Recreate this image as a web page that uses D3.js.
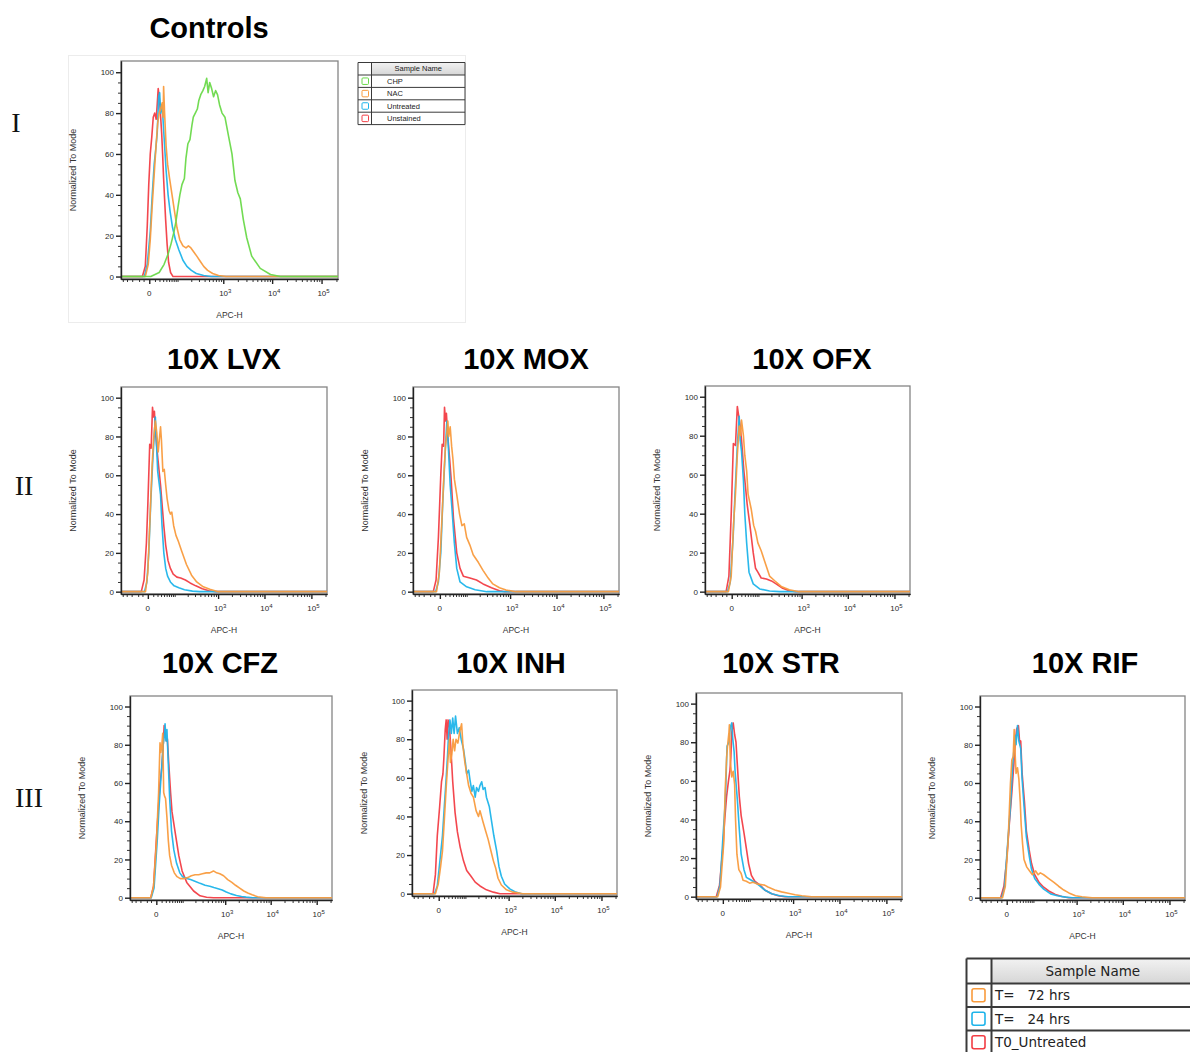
<!DOCTYPE html>
<html>
<head>
<meta charset="utf-8">
<script src="https://cdn.jsdelivr.net/npm/d3@7"></script>
<style>
  body { margin: 0; background: #fff; }
  svg { display: block; }
</style>
</head>
<body>
<svg id="fig" width="1190" height="1052"></svg>
<script>
// ---------------------------------------------------------------
// Histogram data: [APC-H value, % of mode]
// ---------------------------------------------------------------

// Controls
const ctrlUnstained = [[-12.5,0],[-6.7,5],[-3.2,25],[-0.8,45],[1.55,60],[4.0,68],[6.7,78],[9.5,80],[12.5,77],[14.7,84],[17,92],[19.3,88],[21.8,82],[25.8,70],[28.4,60],[31.3,48],[34.3,38],[37.6,28],[42.6,16],[48,7],[55.8,2],[66.7,0]];
const ctrlUntreated = [[-8.5,0],[-3.2,6],[1.55,22],[4.9,40],[8.5,55],[11.5,62],[14.7,70],[18.1,88],[20.5,90],[23.1,80],[25.8,84],[28.5,80],[32.8,68],[39.2,52],[46.2,40],[53.8,32],[64.4,24],[78.5,18],[98,13],[125,8],[157,5],[201,3],[261,1.5],[382,0.5],[554,0]];
const ctrlNAC = [[-6.7,0],[-1.6,6],[1.55,18],[4.9,35],[8.5,50],[12.5,65],[15.8,75],[19.3,80],[23.1,82],[27.1,85],[29.9,78],[31.3,93],[34.3,80],[39.2,64],[44.4,55],[51.8,48],[62.2,40],[73.7,32],[86.7,24],[103.6,18],[125,15],[149,14],[171,15],[196,14],[229,12],[268,10],[320,7.5],[382,5],[466,3],[597,1.5],[796,0.5],[1138,0]];
const ctrlCHP = [[2.4,0],[19.3,2],[32.8,6],[46.2,11],[57.9,16],[71.4,22],[81.4,27],[92.5,34],[104,40],[118,45],[136,48],[149,58],[166,65],[186,67],[207,74],[223,78],[248,80],[276,82],[297,86],[329,89],[367,91],[401,93],[444,97],[477,90],[516,95],[568,92],[625,88],[689,91],[757,89],[837,84],[942,80],[1084,78],[1281,69],[1515,60],[1745,47],[2003,41],[2248,38],[2588,28],[3045,19],[3844,10],[5736,4],[9267,1],[14700,0]];

// 10X LVX
const lvxT0 = [[-12.5,0],[-6.7,6],[-2.4,25],[0,45],[3.2,76],[5.8,74],[8.5,95],[10.5,90],[12.5,93],[15.8,80],[19.3,72],[24.4,62],[28.5,55],[32.8,46],[39.2,34],[46.2,24],[55.8,16],[66.7,12],[81.4,9],[104,7.5],[132,7],[175,6],[229,4.5],[313,3],[444,1.5],[625,0.5],[876,0]];
const lvx24 = [[-5.8,0],[-1.6,5],[1.55,20],[4.9,45],[8.5,65],[11.5,78],[14.7,90],[17,78],[20.5,62],[24.4,56],[28.5,50],[32.8,35],[39.2,20],[46.2,12],[53.8,8],[66.7,5],[86.7,3],[118,2],[166,1],[261,0.3],[382,0]];
const lvx72 = [[-4.0,0],[0,10],[4.0,40],[7.6,65],[10.5,78],[14.7,88],[18.1,82],[21.8,72],[25.8,80],[28.5,85],[31.3,78],[35.9,62],[40.9,63],[46.2,55],[51.8,48],[60,42],[66.7,40],[73.7,41],[84,34],[98,29],[114,26],[140,21],[186,14],[248,8.5],[329,5],[466,2.5],[656,1.2],[1010,0]];

// 10X MOX
const moxT0 = [[-12.5,0],[-6.7,6],[-2.4,28],[1.55,60],[4.0,76],[6.7,75],[8.5,95],[10.5,88],[12.5,92],[15.8,80],[20.5,68],[24.4,58],[31.3,38],[42.6,20],[55.8,12],[71.4,8],[111,7],[166,6],[241,4],[382,2],[580,0.5],[757,0]];
const mox24 = [[-7.6,0],[-2.4,5],[1.55,20],[4.9,45],[7.6,60],[10.5,75],[13.6,88],[15.8,80],[19.3,65],[21.8,55],[27.1,42],[34.3,25],[42.6,12],[55.8,5],[89.7,2.5],[153,1],[297,0]];
const mox72 = [[-5.8,0],[-0.8,10],[4.0,40],[7.6,62],[10.5,75],[13.6,82],[15.8,88],[18.1,80],[21.8,85],[25.8,75],[29.9,68],[34.3,58],[42.6,50],[53.8,40],[64.4,34],[76.3,35],[89.7,28],[111,24],[136,19],[186,15],[241,11],[320,7],[410,4],[580,2],[815,0.8],[1340,0]];

// 10X OFX
const ofxT0 = [[-10.5,0],[-4.9,8],[-0.8,40],[2.8,76],[6.7,75],[10.5,95],[13.6,90],[17,85],[20.5,78],[27.1,62],[31.3,55],[37.5,45],[48,34],[62.2,20],[73.7,12],[86.7,10],[108,7],[149,6.5],[201,5.5],[261,4],[374,1.7],[530,0.5],[740,0]];
const ofx24 = [[-7.6,0],[-2.4,5],[2.4,28],[5.8,50],[10.5,75],[14.7,90],[17,78],[20.5,72],[25.8,57],[29.9,40],[35.9,25],[44.4,10],[62.2,4],[98,1.4],[180,0.3],[313,0]];
const ofx72 = [[-5.8,0],[-0.8,8],[3.2,35],[6.7,50],[10.5,70],[14.7,85],[18.1,80],[20.5,88],[25.8,80],[29.9,70],[35.9,62],[40.9,50],[53.8,42],[64.4,34],[73.7,31],[86.7,25],[108,21],[132,16],[180,8],[241,5.6],[345,2.7],[530,1],[876,0]];

// 10X CFZ
const cfzT0 = [[-10.5,0],[-4.9,6],[0,30],[3.2,45],[6.7,60],[10.5,68],[13.6,80],[15.8,90],[19.3,85],[21.8,82],[24.4,83],[28.5,70],[34.3,55],[39.2,45],[51.8,34],[68.6,22],[86.7,14],[118,8],[180,3.5],[261,1],[374,0.2],[541,0]];
const cfz24 = [[-9.5,0],[-4.0,5],[1.55,30],[4.9,48],[8.5,62],[13.6,80],[17,86],[18.1,91],[20.5,82],[23.1,88],[27.1,70],[31.3,52],[37.5,35],[46.2,25],[57.9,18],[73.7,13],[89.7,11],[118,10],[149,9.5],[201,8.5],[261,7.5],[345,6.5],[444,6],[554,5.3],[689,4.7],[855,4],[1058,3],[1340,2],[1777,1.2],[2303,0.6],[2908,0.3],[4030,0]];
const cfz72 = [[-10.5,0],[-4.9,6],[0,28],[4.0,55],[6.7,81],[8.5,76],[10.5,80],[12.5,86],[14.7,55],[17,53],[19.3,52],[23.1,42],[27.1,30],[31.3,22],[37.5,17],[48,13],[60,11],[76.3,10],[98,10],[125,10.5],[157,11.5],[196,12],[241,12],[297,12.5],[367,13],[444,13],[541,14],[640,13],[757,12.5],[920,11.5],[1138,9.5],[1408,8],[1697,6.5],[2095,5],[2588,3.5],[3160,2.5],[3940,1.5],[5197,0.5],[7900,0]];

// 10X INH
const inhT0 = [[-10.5,0],[-5.8,10],[-2.4,30],[1.55,45],[4.9,58],[7.6,62],[9.5,70],[12.5,85],[14.7,90],[17,80],[19.3,90],[23.1,86],[27.1,75],[32.8,58],[40.9,42],[49.9,32],[62.2,24],[78.8,17],[98,12],[129,9],[166,6],[219,4],[313,2],[455,0.8],[640,0]];
const inh24 = [[-7.6,0],[-2.4,4],[2.4,18],[6.7,30],[10.5,45],[14.7,60],[18.1,72],[20.5,82],[24.4,90],[28.5,83],[32.8,91],[37.5,83],[42.6,92],[49.9,83],[57.9,86],[66.7,80],[78.8,75],[89.7,68],[98,62],[111,64],[121,59],[136,53],[149,56],[166,50],[180,55],[201,53],[219,56],[241,58],[261,54],[290,55],[313,50],[367,45],[410,38],[466,30],[541,22],[610,14],[689,9],[815,5],[1060,2.5],[1375,1],[1910,0]];
const inh72 = [[-5.8,0],[-0.8,5],[3.2,14],[6.7,22],[10.5,38],[14.7,55],[19.3,70],[23.1,80],[25.8,68],[29.9,72],[34.3,80],[39.2,74],[44.4,80],[51.8,78],[60,84],[69,88],[76.3,76],[86.7,68],[98,62],[111,56],[129,52],[149,50],[175,43],[201,40],[219,43],[261,37],[305,32],[345,28],[401,22],[455,17],[516,13],[580,8],[689,4.5],[897,2],[1250,0.8],[2049,0]];

// 10X STR
const strT0 = [[-12.5,0],[-5.8,6],[0,25],[3.2,40],[6.7,52],[10.5,60],[13.6,65],[15.8,72],[18.1,85],[21.8,90],[25.8,84],[29.9,80],[34.3,68],[40.9,52],[48,42],[60,33],[71.4,25],[84,17],[101,11],[125,8],[171,6],[223,3.5],[329,1.5],[466,0.5],[656,0]];
const str24 = [[-10.5,0],[-4.9,6],[0,30],[3.2,45],[4.9,55],[7.6,78],[11.5,80],[14.7,88],[18.1,90],[20.5,82],[24.4,75],[27.1,65],[34.3,50],[40.9,35],[48,22],[60,14],[71.4,10],[89.7,9],[125,7.5],[171,5.5],[223,3.5],[329,1.5],[504,0.5],[778,0]];
const str72 = [[-9.5,0],[-4.0,5],[1.55,28],[4.0,55],[6.7,72],[8.5,78],[11.5,85],[12.5,89],[14.7,70],[18.1,62],[21.8,65],[25.8,58],[28.5,40],[32.8,22],[39.2,14],[48,12],[55.8,8.5],[71.4,8],[89.7,7],[111,7.5],[153,6.5],[223,6],[268,5],[391,3.5],[554,2.5],[778,1.8],[1110,1],[1550,0.5],[2530,0]];

// 10X RIF
const rifT0 = [[-11.5,0],[-4.9,6],[0,20],[4.9,40],[9.5,55],[11.5,62],[14.7,72],[17,80],[20.5,88],[25.8,90],[29.9,80],[32.8,82],[37.5,65],[46.2,50],[53.8,35],[66.7,25],[78.8,18],[98,12],[129,8],[171,5.5],[229,3.5],[329,1.7],[466,0.6],[672,0]];
const rif24 = [[-9.5,0],[-4.0,5],[0.8,25],[6.7,48],[11.5,70],[17,85],[19.3,80],[23.1,90],[27.1,82],[32.8,78],[37.5,62],[44.4,48],[53.8,32],[66.7,22],[78.8,15],[98,10],[129,7],[171,4.5],[254,2],[367,1],[568,0.3],[796,0]];
const rif72 = [[-7.6,0],[-2.4,6],[2.4,30],[6.7,60],[9.5,72],[12.5,74],[14.7,88],[17,75],[19.3,65],[23.1,68],[27.1,62],[31.3,50],[34.3,38],[39.2,28],[44.4,20],[55.8,16],[69,14],[84,12],[104,14],[122,12],[140,13],[171,12],[229,10],[305,8],[392,6],[516,4],[672,2.5],[942,1],[1310,0.5],[2180,0]];

// Axis ticks
const xDomain = [-90, 215000];
const yDomain = [-1.2, 105.5];
const xMajorTicks = [0, 1e3, 1e4, 1e5];
const xMajorLabels = [["0", ""], ["10", "3"], ["10", "4"], ["10", "5"]];
const xMinorTicks = [-80, -60, -40, -20, -10, 10, 20, 30, 40, 50, 60, 70, 80, 90,
  200, 300, 400, 500, 600, 700, 800, 900,
  2000, 3000, 4000, 5000, 6000, 7000, 8000, 9000,
  20000, 30000, 40000, 50000, 60000, 70000, 80000, 90000, 200000];
const yMajorTicks = [0, 20, 40, 60, 80, 100];
const yMinorTicks = [5, 10, 15, 25, 30, 35, 45, 50, 55, 65, 70, 75, 85, 90, 95];

// Legends
const controlNames = ["CHP", "NAC", "Untreated", "Unstained"];
const timeNames = ["T=   72 hrs", "T=   24 hrs", "T0_Untreated"];

const C = { green: "#6ad94a", orange: "#f99b3d", cyan: "#1eb4ea", red: "#f23d44" };
const controlColors = [C.green, C.orange, C.cyan, C.red];
const timeColors = [C.orange, C.cyan, C.red];

// ---------------------------------------------------------------
const SANS = "'Liberation Sans', Arial, Helvetica, sans-serif";
const svg = d3.select("#fig");

const panels = [
  { title: "Controls", tx: 209, ty: 38, box: { x: 121, y: 61, w: 217, h: 218 },
    series: [[ctrlUnstained, C.red], [ctrlUntreated, C.cyan], [ctrlNAC, C.orange], [ctrlCHP, C.green]] },
  { title: "10X LVX", tx: 224, ty: 369, box: { x: 121, y: 387, w: 206, h: 207 },
    series: [[lvxT0, C.red], [lvx24, C.cyan], [lvx72, C.orange]] },
  { title: "10X MOX", tx: 526, ty: 369, box: { x: 413, y: 387, w: 206, h: 207 },
    series: [[moxT0, C.red], [mox24, C.cyan], [mox72, C.orange]] },
  { title: "10X OFX", tx: 812, ty: 369, box: { x: 705, y: 386, w: 205, h: 208 },
    series: [[ofxT0, C.red], [ofx24, C.cyan], [ofx72, C.orange]] },
  { title: "10X CFZ", tx: 220, ty: 673, box: { x: 130, y: 696, w: 202, h: 204 },
    series: [[cfzT0, C.red], [cfz24, C.cyan], [cfz72, C.orange]] },
  { title: "10X INH", tx: 511, ty: 673, box: { x: 412, y: 690, w: 205, h: 206 },
    series: [[inhT0, C.red], [inh24, C.cyan], [inh72, C.orange]] },
  { title: "10X STR", tx: 781, ty: 673, box: { x: 696, y: 693, w: 206, h: 206 },
    series: [[strT0, C.red], [str24, C.cyan], [str72, C.orange]] },
  { title: "10X RIF", tx: 1085, ty: 673, box: { x: 980, y: 696, w: 205, h: 204 },
    series: [[rifT0, C.red], [rif24, C.cyan], [rif72, C.orange]] }
];

// faint export frame around the controls block
svg.append("rect").attr("x", 68.5).attr("y", 55.5).attr("width", 397).attr("height", 267)
  .attr("fill", "none").attr("stroke", "#ececec");

function drawPanel(p) {
  const b = p.box;
  const g = svg.append("g");
  const x = d3.scaleSymlog().constant(33).domain(xDomain).range([b.x, b.x + b.w]);
  const y = d3.scaleLinear().domain(yDomain).range([b.y + b.h, b.y]);

  // title
  g.append("text").attr("x", p.tx).attr("y", p.ty).attr("text-anchor", "middle")
    .attr("font-family", SANS).attr("font-weight", "bold").attr("font-size", 29)
    .attr("fill", "#000").text(p.title);

  // plot frame
  g.append("rect").attr("x", b.x).attr("y", b.y).attr("width", b.w).attr("height", b.h)
    .attr("fill", "none").attr("stroke", "#858585").attr("stroke-width", 1.3);

  // histogram outlines, running along zero to both ends of the axis
  const line = d3.line().x(d => x(d[0])).y(d => y(d[1]));
  p.series.forEach(([data, color]) => {
    const pts = [[xDomain[0], 0], ...data, [xDomain[1], 0]];
    g.append("path").attr("d", line(pts)).attr("fill", "none")
      .attr("stroke", color).attr("stroke-width", 1.6)
      .attr("stroke-linejoin", "round").attr("opacity", 0.95);
  });

  // x axis
  const axY = b.y + b.h;
  g.append("g").attr("transform", `translate(0,${axY})`)
    .call(d3.axisBottom(x).tickValues(xMinorTicks).tickSize(3).tickSizeOuter(0).tickFormat(""))
    .call(s => s.selectAll("line,path").attr("stroke", "#333"));
  g.append("g").attr("transform", `translate(0,${axY})`)
    .call(d3.axisBottom(x).tickValues(xMajorTicks).tickSize(5).tickSizeOuter(0).tickFormat(""))
    .call(s => s.selectAll("line,path").attr("stroke", "#222").attr("stroke-width", 1.4));
  xMajorTicks.forEach((v, i) => {
    const t = g.append("text").attr("x", x(v) + (i ? 2 : 0)).attr("y", axY + 17)
      .attr("text-anchor", "middle").attr("font-family", SANS).attr("font-size", 8).attr("fill", "#2a2a2a");
    t.append("tspan").text(xMajorLabels[i][0]);
    if (xMajorLabels[i][1]) t.append("tspan").attr("dy", -3.5).attr("font-size", 6).text(xMajorLabels[i][1]);
  });

  // y axis
  g.append("g").attr("transform", `translate(${b.x},0)`)
    .call(d3.axisLeft(y).tickValues(yMinorTicks).tickSize(3).tickSizeOuter(0).tickFormat(""))
    .call(s => s.selectAll("line,path").attr("stroke", "#333"));
  g.append("g").attr("transform", `translate(${b.x},0)`)
    .call(d3.axisLeft(y).tickValues(yMajorTicks).tickSize(5).tickSizeOuter(0).tickPadding(2))
    .call(s => {
      s.selectAll("line,path").attr("stroke", "#222").attr("stroke-width", 1.4);
      s.selectAll("text").attr("font-family", SANS).attr("font-size", 8).attr("fill", "#2a2a2a");
    });

  // axis titles
  g.append("text").attr("transform", `translate(${b.x - 45},${b.y + b.h / 2}) rotate(-90)`)
    .attr("text-anchor", "middle").attr("font-family", SANS).attr("font-size", 9).attr("fill", "#333")
    .text("Normalized To Mode");
  g.append("text").attr("x", b.x + b.w / 2).attr("y", axY + 39).attr("text-anchor", "middle")
    .attr("font-family", SANS).attr("font-size", 8.5).attr("fill", "#333").text("APC-H");
}
panels.forEach(drawPanel);

// row labels
[["I", 16, 132], ["II", 24, 495], ["III", 29, 807]].forEach(([t, lx, ly]) => {
  svg.append("text").attr("x", lx).attr("y", ly).attr("text-anchor", "middle")
    .attr("font-family", "'Liberation Serif', 'Times New Roman', serif").attr("font-size", 28)
    .attr("fill", "#111").text(t);
});

// sample-name table legend
function drawLegend(o) {
  const g = svg.append("g");
  const grad = "hdr" + o.id;
  const defs = svg.append("defs");
  const lg = defs.append("linearGradient").attr("id", grad).attr("x1", 0).attr("y1", 0).attr("x2", 0).attr("y2", 1);
  lg.append("stop").attr("offset", "0%").attr("stop-color", "#f2f2f2");
  lg.append("stop").attr("offset", "100%").attr("stop-color", "#d6d6d6");
  const bottom = o.top + o.headH + o.rowH * o.names.length;
  g.append("rect").attr("x", o.left).attr("y", o.top).attr("width", o.right - o.left).attr("height", bottom - o.top)
    .attr("fill", "#fff");
  g.append("rect").attr("x", o.divX).attr("y", o.top).attr("width", o.right - o.divX).attr("height", o.headH)
    .attr("fill", `url(#${grad})`);
  g.append("text").attr("x", (o.divX + o.right) / 2 + o.hdrShift).attr("y", o.top + o.headH / 2)
    .attr("dominant-baseline", "central").attr("text-anchor", "middle")
    .attr("font-family", o.font).attr("font-size", o.fs).attr("fill", "#222").text("Sample Name");
  o.names.forEach((n, i) => {
    const ry = o.top + o.headH + i * o.rowH;
    g.append("rect").attr("x", o.sqX).attr("y", ry + (o.rowH - o.sq) / 2).attr("width", o.sq).attr("height", o.sq)
      .attr("rx", o.sq * 0.15).attr("fill", "#fff").attr("stroke", o.colors[i]).attr("stroke-width", o.sqW);
    g.append("text").attr("x", o.textX).attr("y", ry + o.rowH / 2).attr("dominant-baseline", "central")
      .attr("font-family", o.font).attr("font-size", o.fs).attr("fill", "#222")
      .style("white-space", "pre").text(n);
  });
  const ls = g.append("g").attr("stroke", "#3a3a3a").attr("stroke-width", o.lw).attr("fill", "none");
  for (let i = 0; i <= o.names.length; i++) {
    const yy = o.top + o.headH + i * o.rowH;
    ls.append("line").attr("x1", o.left).attr("x2", o.right).attr("y1", yy).attr("y2", yy);
  }
  ls.append("line").attr("x1", o.left).attr("x2", o.right).attr("y1", o.top).attr("y2", o.top);
  ls.append("line").attr("x1", o.left).attr("x2", o.left).attr("y1", o.top).attr("y2", bottom);
  ls.append("line").attr("x1", o.divX).attr("x2", o.divX).attr("y1", o.top).attr("y2", bottom);
  ls.append("line").attr("x1", o.right).attr("x2", o.right).attr("y1", o.top).attr("y2", bottom);
}

drawLegend({ id: "a", names: controlNames, colors: controlColors, left: 358, divX: 371.5, right: 465,
  top: 62.5, headH: 12.5, rowH: 12.4, sqX: 362, sq: 6.5, sqW: 1, textX: 387, fs: 7.5, lw: 1,
  hdrShift: 0, font: SANS });
drawLegend({ id: "b", names: timeNames, colors: timeColors, left: 966.5, divX: 991.5, right: 1198,
  top: 958.5, headH: 25, rowH: 23.5, sqX: 972, sq: 13, sqW: 1.6, textX: 995, fs: 13.5, lw: 2,
  hdrShift: -2, font: "'DejaVu Sans', Verdana, sans-serif" });
</script>
</body>
</html>
